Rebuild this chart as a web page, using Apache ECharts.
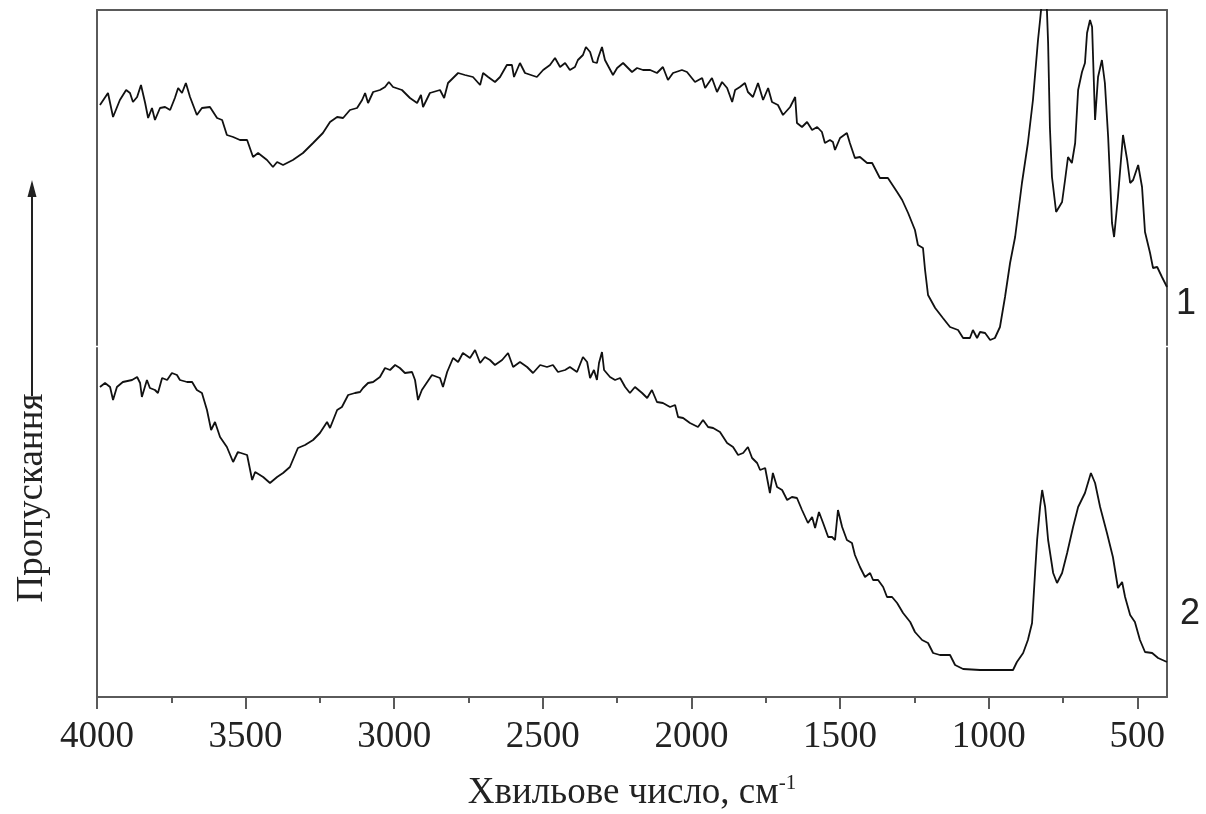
<!DOCTYPE html>
<html>
<head>
<meta charset="utf-8">
<script src="https://cdn.jsdelivr.net/npm/echarts@6/dist/echarts.min.js"></script>
<style>
html,body{margin:0;padding:0;background:#fff;}
#chart{width:1206px;height:814px;}
</style>
</head>
<body>
<div id="chart"></div>
<script>
// Spectrum 1 (upper curve): wavenumber (cm-1) and transmittance (arbitrary units)
const wn1 = [3990,3963,3946,3923,3902,3889,3879,3865,3852,3838,3828,3815,3805,3788,3771,3754,3738,3727,3714,3701,
3687,3664,3647,3620,3596,3579,3563,3542,3519,3495,3475,3458,3428,3408,3394,3374,3341,3307,3273,3240,
3216,3192,3172,3149,3125,3108,3098,3088,3071,3048,3031,3018,3004,2974,2947,2923,2910,2903,2880,2846,
2832,2819,2802,2785,2762,2735,2711,2701,2684,2661,2644,2621,2604,2597,2577,2560,2520,2499,2476,2459,
2442,2425,2409,2392,2382,2365,2355,2341,2331,2318,2314,2301,2291,2264,2250,2230,2200,2183,2163,2139,
2116,2096,2079,2062,2032,2015,1988,1964,1954,1931,1914,1897,1880,1863,1853,1837,1820,1810,1793,1776,
1759,1742,1729,1709,1692,1668,1651,1645,1628,1611,1594,1577,1561,1551,1534,1524,1517,1500,1477,1467,
1450,1433,1409,1392,1366,1339,1308,1291,1271,1248,1238,1221,1214,1204,1180,1154,1130,1103,1086,1063,
1053,1039,1029,1012,995,979,962,945,928,911,888,868,851,834,827,814,804,800,794,787,
773,753,743,733,720,709,699,686,676,669,659,652,642,632,619,609,598,585,578,565,
548,534,524,514,497,484,474,457,447,433,417,400];
const t1 = [48,50.4,45.6,49,51,50.4,48.6,49.6,52,48.4,45.4,47.4,45,47.4,47.6,47,49.4,51.4,50.4,52.4,
49.6,46,47.4,47.6,45.4,45,42,41.6,41,41,37.6,38.4,37,35.6,36.6,36,37,38.4,40.4,42.4,
44.6,45.6,45.4,47,47.4,49,50.4,48.4,50.6,51,51.6,52.6,51.6,51,49.4,48.4,50,47.6,50.4,51,
49.4,52.4,53.4,54.4,54,53.6,52,54.4,53.6,52.6,53.6,56,56,53.6,56.4,54.4,53.6,55,56,57.4,
55.6,56.4,55,55.6,57,58,59.6,58.6,56.6,56.4,57.4,59.6,57,54,55.4,56.4,54.6,55.4,55,55,
54.4,55.6,53,54.4,55,54.6,52.6,53.4,51.4,53.4,50.6,52.6,51.4,48.6,51,51.6,52.4,50.6,49.6,52.4,
49,51.4,48.6,48,46,47.6,49.6,44.4,43.6,44.6,43,43.6,42.6,40.4,41,40.6,39,41.4,42.4,40.4,
37.4,37.6,36.4,36.4,33.4,33.4,30.6,29,26.4,23,20,19.4,15,10,7.4,5.4,3.6,3,1.4,1.4,
3,1.4,2.6,2.4,1,1.4,3.6,9.6,16.4,21.6,32.4,40.4,49,61,65,73,67,60.4,43.6,33.6,
26.6,28.6,33,37.6,36.4,40.4,51,54.6,56.4,62.4,65,63.6,45,53.6,57,52.4,41.6,24.4,21.6,29.6,
42,37,32.4,33,36,31.6,22.6,18.4,15.4,15.6,13.6,11.6];

// Spectrum 2 (lower curve)
const wn2 = [3990,3973,3956,3946,3933,3913,3882,3865,3855,3849,3832,3822,3805,3795,3781,3764,3748,3731,3721,3697,
3680,3664,3647,3630,3616,3603,3586,3563,3542,3526,3495,3478,3468,3441,3418,3394,3374,3351,3324,3300,
3273,3250,3226,3216,3192,3176,3155,3132,3115,3105,3088,3071,3048,3031,3014,2997,2981,2964,2940,2930,
2920,2907,2873,2846,2836,2822,2802,2785,2769,2745,2728,2711,2695,2678,2661,2637,2617,2600,2577,2553,
2533,2509,2486,2466,2449,2425,2409,2385,2365,2351,2341,2328,2318,2311,2301,2294,2274,2257,2240,2223,
2207,2190,2166,2149,2133,2116,2096,2072,2055,2045,2028,2005,1978,1961,1944,1927,1904,1880,1860,1843,
1826,1810,1796,1779,1769,1752,1736,1726,1712,1695,1678,1662,1645,1628,1608,1594,1584,1571,1557,1540,
1527,1517,1507,1493,1477,1460,1450,1433,1416,1399,1389,1372,1355,1342,1325,1308,1288,1264,1248,1224,
1204,1187,1164,1130,1113,1086,1029,962,918,905,884,868,854,844,837,827,820,810,800,783,
770,753,736,716,699,676,656,642,625,602,582,565,551,541,524,508,491,474,450,430,400];
const t2 = [62,62.8,62,59.4,62,63,63.4,64,62.8,60,63.4,61.8,61.4,60.8,63.8,63.4,64.8,64.4,63.4,63,
63,61.4,60.8,57.4,53.4,55,52,50,47,49,48.4,43.4,45,44,42.8,44,44.8,46,49.8,50.4,
51.4,52.8,55,53.8,57.4,58,60.4,60.8,61,61.8,62.8,63,64,65.8,65.4,66.4,65.8,64.8,65,63.4,
59.4,61.4,64.4,63.8,62,65,67.8,67,68.8,67.8,69.4,66.8,68,67.4,66.4,67.4,68.8,66,67,66,
64.8,66.4,66,66.4,65,65.4,66,65,68,67,63.8,65.4,63.4,66.8,69,65.4,64,63.4,63.8,62,
60.8,62,60.8,59.8,61.4,59,58.8,58,58.4,56,55.8,54.8,54,55.4,54,53.8,53,50.8,50,48.4,
48.8,50,47.8,46.8,45.4,45.8,40.8,44.8,42,41.4,39.4,40,39.8,37.4,34.8,36,33.8,37,34.8,32,
32,31.4,37.4,34,31.4,30.8,28.4,26,24,24.8,23.4,23.4,22,20,20,18.8,16.8,15,13,11.4,
10.8,8.8,8.4,8.4,6.4,5.6,5.4,5.4,5.4,7,8.8,11.4,14.8,24.8,31.4,38,41.4,38,31.4,24.8,
22.8,24.8,28.8,34,38,40.8,44.8,42.8,38,32.8,28,21.8,23,20,16.4,15,11.4,9,8.8,7.8,7];

// Axis ticks
const majorTicks = [4000,3500,3000,2500,2000,1500,1000,500];
const minorTicks = [3750,3250,2750,2250,1750,1250,750];
const xMin = 400, xMax = 4000;
const curveLabels = ['1','2'];
const xTitle = 'Хвильове число, см';
const xTitleSup = '-1';
const yTitle = 'Пропускання';

const zip = (a,b) => a.map((v,i)=>[v,b[i]]);
const serif = '"Liberation Serif", "Times New Roman", serif';
const frame = {show:true, onZero:false, lineStyle:{color:'#5a5a5a', width:2}};
const hiddenY = (grid, pos, max) => ({type:'value', gridIndex:grid, min:0, max:max, position:pos,
  axisLine:frame, axisTick:{show:false}, axisLabel:{show:false}, splitLine:{show:false}});

const chart = echarts.init(document.getElementById('chart'), null, {renderer:'canvas'});
chart.setOption({
  animation:false,
  backgroundColor:'#fff',
  grid:[
    {left:97, right:39, top:10, height:335},
    {left:97, right:39, top:348, bottom:117}
  ],
  xAxis:[
    {type:'value', gridIndex:0, min:xMin, max:xMax, inverse:true, position:'top',
     axisLine:frame, axisTick:{show:false}, axisLabel:{show:false}, splitLine:{show:false}},
    {type:'value', gridIndex:1, min:xMin, max:xMax, inverse:true, position:'bottom',
     axisLine:frame,
     axisTick:{show:true, inside:false, length:12, customValues:majorTicks, lineStyle:{color:'#5a5a5a', width:2}},
     axisLabel:{show:true, customValues:majorTicks, margin:22, fontFamily:serif, fontSize:37, color:'#222',
       formatter:(v)=>String(v)},
     splitLine:{show:false},
     name:'{a|' + xTitle + '}{b|' + xTitleSup + '}',
     nameLocation:'middle', nameGap:76,
     nameTextStyle:{rich:{
       a:{fontFamily:serif, fontSize:37, color:'#222', lineHeight:40},
       b:{fontFamily:serif, fontSize:21, color:'#222', verticalAlign:'top', lineHeight:40}
     }}},
    {type:'value', gridIndex:1, min:xMin, max:xMax, inverse:true, position:'bottom',
     axisLine:{show:false, onZero:false},
     axisTick:{show:true, inside:false, length:6, customValues:minorTicks, lineStyle:{color:'#5a5a5a', width:2}},
     axisLabel:{show:false}, splitLine:{show:false}}
  ],
  yAxis:[
    hiddenY(0,'left',67), hiddenY(0,'right',67),
    hiddenY(1,'left',69.8), hiddenY(1,'right',69.8)
  ],
  series:[
    {type:'line', xAxisIndex:0, yAxisIndex:0, data:zip(wn1,t1), showSymbol:false, clip:true,
     lineStyle:{color:'#111', width:1.8}},
    {type:'line', xAxisIndex:1, yAxisIndex:2, data:zip(wn2,t2), showSymbol:false, clip:true,
     lineStyle:{color:'#111', width:1.8}}
  ],
  graphic:[
    {type:'text', left:1176, top:286, style:{text:curveLabels[0], font:'36px "Liberation Sans", Arial, sans-serif', fill:'#222'}},
    {type:'text', left:1180, top:596, style:{text:curveLabels[1], font:'36px "Liberation Sans", Arial, sans-serif', fill:'#222'}},
    {type:'text', x:32, y:498, rotation:Math.PI/2,
     style:{text:yTitle, font:'37px "Liberation Serif", "Times New Roman", serif', fill:'#222', align:'center', verticalAlign:'middle'}},
    {type:'line', shape:{x1:32, y1:396, x2:32, y2:192}, style:{stroke:'#222', lineWidth:2}},
    {type:'polygon', shape:{points:[[32,180],[27.5,197],[36.5,197]]}, style:{fill:'#222'}}
  ]
});
</script>
</body>
</html>
